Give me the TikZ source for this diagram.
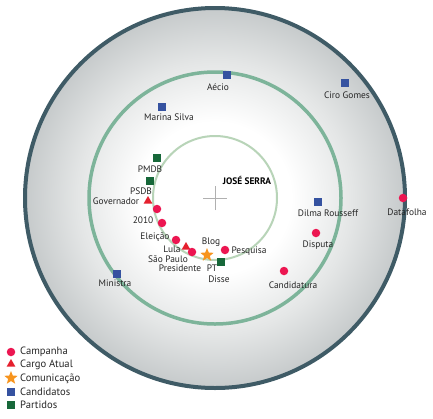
\documentclass[tikz,border=0pt]{standalone}
\usepackage{fontspec}
\setmainfont{PT Sans}
\usetikzlibrary{shapes.geometric}
\definecolor{dotred}{HTML}{EC1651}
\definecolor{trired}{HTML}{E5202E}
\definecolor{candblue}{HTML}{3552A0}
\definecolor{partgreen}{HTML}{17683A}
\definecolor{staror}{HTML}{F7941D}
\definecolor{outerring}{HTML}{3F5B66}
\definecolor{midring}{HTML}{7DB49A}
\definecolor{innring}{HTML}{B8D4B8}
\definecolor{edgegrey}{HTML}{C6CACB}
\definecolor{midgrey}{HTML}{E4E6E6}
\definecolor{crossgrey}{HTML}{B0B0B0}
\pgfdeclareradialshading{bub}{\pgfpoint{0bp}{0bp}}{color(0bp)=(white); color(10bp)=(white); color(18bp)=(midgrey); color(25bp)=(edgegrey); color(50bp)=(edgegrey)}
\tikzset{
  campanha/.style={circle, fill=dotred, inner sep=0pt, minimum size=8.5pt},
  cargo/.style={regular polygon, regular polygon sides=3, fill=trired, inner sep=0pt, minimum size=10pt},
  comunic/.style={star, star points=5, star point ratio=2.3, fill=staror, inner sep=0pt, minimum size=14pt},
  candid/.style={rectangle, fill=candblue, inner sep=0pt, minimum size=8pt},
  partido/.style={rectangle, fill=partgreen, inner sep=0pt, minimum size=8pt},
  lbl/.style={font=\fontsize{9.4}{10}\selectfont, inner sep=0pt, text=black!85},
  leg/.style={font=\fontsize{10.6}{11}\selectfont, inner sep=0pt, anchor=west, text=black!85},
}
\begin{document}
\begin{tikzpicture}[x=1pt,y=-1pt]
\useasboundingbox (0,0) rectangle (433,418);
% rings
\shade[shading=bub] (215,198) circle (190);
\draw[outerring, line width=4pt] (215,198) circle (190);
\draw[midring, line width=3.5pt] (215,198) circle (126);
\draw[innring, line width=2pt] (215,198) circle (62);
% centre
\coordinate (c) at (215,198);
\draw[crossgrey, line width=0.8pt] ([xshift=-12pt]c) -- ([xshift=12pt]c);
\draw[crossgrey, line width=0.8pt] ([yshift=-12pt]c) -- ([yshift=12pt]c);
\node[font=\fontsize{9.4}{10}\selectfont\bfseries, inner sep=0pt] (js) at (247,180) {JOSÉ SERRA};
% candidates
\node[candid] (aecio) at (227,75) {};
\node[lbl] (aeciol) at (218,87) {Aécio};
\node[candid] (ciro) at (345,83) {};
\node[lbl] (cirol) at (347,95) {Ciro Gomes};
\node[candid] (marina) at (162,107) {};
\node[lbl] (marinal) at (169,117) {Marina Silva};
\node[candid] (dilma) at (318,202) {};
\node[lbl] (dilmal) at (328,213) {Dilma Rousseff};
\node[candid] (ministra) at (117,274) {};
\node[lbl] (ministral) at (115,283) {Ministra};
% parties
\node[partido] (pmdb) at (157,158) {};
\node[lbl] (pmdbl) at (150,169) {PMDB};
\node[partido] (psdb) at (150,181) {};
\node[lbl] (psdbl) at (141,191) {PSDB};
\node[partido] (pt) at (221,262) {};
\node[lbl] (ptl) at (212,268) {PT};
% cargo atual
\node[cargo] (gov) at (148,201) {};
\node[lbl] (govl) at (116,201) {Governador};
\node[cargo] (lula) at (186,247) {};
\node[lbl] (lulal) at (172,249) {Lula};
% campanha
\node[campanha] (d1) at (157,209) {};
\node[campanha] (d2010) at (162,223) {};
\node[lbl] (d2010l) at (143,220) {2010};
\node[campanha] (eleicao) at (176,240) {};
\node[lbl] (eleicaol) at (155,237) {Eleição};
\node[campanha] (sp) at (192,252) {};
\node[lbl] (spl) at (168,259) {São Paulo};
\node[lbl] (presl) at (180,268) {Presidente};
\node[campanha] (pesq) at (225,250) {};
\node[lbl] (pesql) at (249,251) {Pesquisa};
\node[lbl] (dissel) at (219,279) {Disse};
\node[campanha] (disputa) at (316,233) {};
\node[lbl] (disputal) at (318,245) {Disputa};
\node[campanha] (cand) at (284,271) {};
\node[lbl] (candl) at (293,285) {Candidatura};
\node[campanha] (data) at (403,198) {};
\node[lbl] (datal) at (407,212) {Datafolha};
% comunicacao
\node[comunic] (blog) at (207,255) {};
\node[lbl] (blogl) at (211,242) {Blog};
% legend
\node[campanha] (lg1) at (11,352) {};
\node[leg] (lg1t) at (20,352) {Campanha};
\node[cargo] (lg2) at (11,364) {};
\node[leg] (lg2t) at (20,365) {Cargo Atual};
\node[comunic] (lg3) at (11,378) {};
\node[leg] (lg3t) at (20,379) {Comunicação};
\node[candid] (lg4) at (11,392) {};
\node[leg] (lg4t) at (20,392) {Candidatos};
\node[partido] (lg5) at (11,405) {};
\node[leg] (lg5t) at (20,405) {Partidos};
\end{tikzpicture}
\end{document}
